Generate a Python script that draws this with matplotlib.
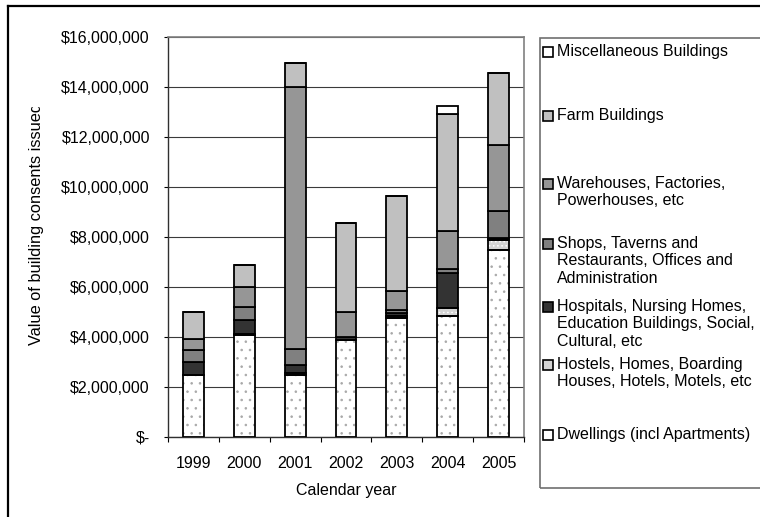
import matplotlib
matplotlib.use("Agg")
import matplotlib.pyplot as plt
import numpy as np
from matplotlib.patches import Rectangle
from matplotlib.lines import Line2D
from matplotlib.ticker import FuncFormatter, MultipleLocator, FixedLocator

plt.rcParams['font.family'] = ['Liberation Sans', 'DejaVu Sans']
plt.rcParams['hatch.linewidth'] = 0.6

# Building consents by type, per calendar year (NZ$)
years = ['1999', '2000', '2001', '2002', '2003', '2004', '2005']
dwellings = [2480000, 4080000, 2480000, 3870000, 4780000, 4840000, 7480000]
hostels = [0, 50000, 90000, 0, 50000, 320000, 400000]
hospitals = [510000, 550000, 300000, 120000, 150000, 1400000, 100000]
shops = [480000, 540000, 650000, 20000, 120000, 150000, 1070000]
warehouses = [450000, 800000, 10470000, 1000000, 740000, 1520000, 2630000]
farm = [1080000, 870000, 980000, 3570000, 3800000, 4700000, 2870000]
misc = [0, 0, 0, 0, 0, 300000, 0]

labels = [
    'Dwellings (incl Apartments)',
    'Hostels, Homes, Boarding\nHouses, Hotels, Motels, etc',
    'Hospitals, Nursing Homes,\nEducation Buildings, Social,\nCultural, etc',
    'Shops, Taverns and\nRestaurants, Offices and\nAdministration',
    'Warehouses, Factories,\nPowerhouses, etc',
    'Farm Buildings',
    'Miscellaneous Buildings',
]
series = [dwellings, hostels, hospitals, shops, warehouses, farm, misc]

# fill, hatch, hatch colour
styles = [
    ('white', '..', '#a8a8a8'),
    ('#d4d4d4', '....', 'white'),
    ('#333333', None, None),
    ('#808080', None, None),
    ('#969696', None, None),
    ('#c0c0c0', None, None),
    ('white', None, None),
]

W, H = 760, 517
fig = plt.figure(figsize=(W / 100, H / 100), dpi=100)


def fx(px):
    return px / W


def fy(py):
    return 1 - py / H


ax = fig.add_axes([fx(168), fy(437), fx(524) - fx(168), fy(37) - fy(437)])

x = np.arange(len(years))
bottom = np.zeros(len(years))
bar_w = 0.41
for vals, (fc, hatch, hc) in zip(series, styles):
    vals = np.array(vals, dtype=float)
    if hatch:
        ax.bar(x, vals, bar_w, bottom=bottom, color=fc, hatch=hatch,
               edgecolor=hc, linewidth=0, zorder=3)
        ax.bar(x, vals, bar_w, bottom=bottom, fill=False,
               edgecolor='black', linewidth=1.3, zorder=4)
    else:
        ax.bar(x, vals, bar_w, bottom=bottom, color=fc,
               edgecolor='black', linewidth=1.3, zorder=3)
    bottom += vals

ax.set_xlim(-0.5, len(years) - 0.5)
ax.set_ylim(0, 16000000)
ax.yaxis.set_major_locator(MultipleLocator(2000000))


def money(v, pos):
    if v == 0:
        return '$-'
    return '${:,.0f}'.format(v)


ax.yaxis.set_major_formatter(FuncFormatter(money))
ax.grid(axis='y', color='#3a3a3a', linewidth=0.8, zorder=1)

ax.set_xticks(x)
ax.set_xticklabels(years)
ax.xaxis.set_minor_locator(FixedLocator(np.arange(-0.5, len(years), 1.0)))
ax.tick_params(axis='x', which='major', length=0, pad=13.5, labelsize=11.5)
ax.tick_params(axis='x', which='minor', length=3.5, width=0.8, direction='out')
ax.tick_params(axis='y', length=3, width=0.8, direction='out', pad=10, labelsize=11.5)

for side in ['top', 'right']:
    ax.spines[side].set_color('#808080')
    ax.spines[side].set_linewidth(1.2)
for side in ['left', 'bottom']:
    ax.spines[side].set_color('#303030')
    ax.spines[side].set_linewidth(1.0)

# axis titles
fig.text(fx(346), fy(491), 'Calendar year', ha='center', va='center', fontsize=11.5)
ylab = fig.text(fx(37), fy(345), 'Value of building consents issued', rotation=90,
                rotation_mode='anchor', ha='left', va='center', fontsize=11.8)

# the y title runs past the top of its box: hide the stem of the last letter
fig.canvas.draw()
bb = ylab.get_window_extent()
cut = bb.y1 - 3.5
fig.add_artist(Rectangle((fx(20), cut / H), fx(40), 1 - cut / H,
                         transform=fig.transFigure, facecolor='white',
                         edgecolor='none', zorder=10))

# outer frame
fig.add_artist(Line2D([fx(8), fx(8)], [fy(6), fy(H + 5)], color='black', lw=1.6, zorder=11))
fig.add_artist(Line2D([fx(8), fx(W + 5)], [fy(6), fy(6)], color='black', lw=1.6, zorder=11))

# legend box
fig.add_artist(Rectangle((fx(540), fy(488)), fx(240), fy(38) - fy(488),
                         transform=fig.transFigure, fill=False,
                         edgecolor='#707070', lw=1.2))
legend_y = [435, 365, 307, 244, 184, 116, 52]
for lab, (fc, hatch, hc), ly in zip(labels, styles, legend_y):
    fig.add_artist(Rectangle((fx(543), fy(ly + 5)), fx(10), fy(0) - fy(10),
                             transform=fig.transFigure, facecolor=fc,
                             edgecolor='black', lw=1.2))
    fig.text(fx(557), fy(ly - 8), lab, ha='left', va='top', fontsize=11.5,
             linespacing=1.2)

fig.savefig('out.png', dpi=100)
